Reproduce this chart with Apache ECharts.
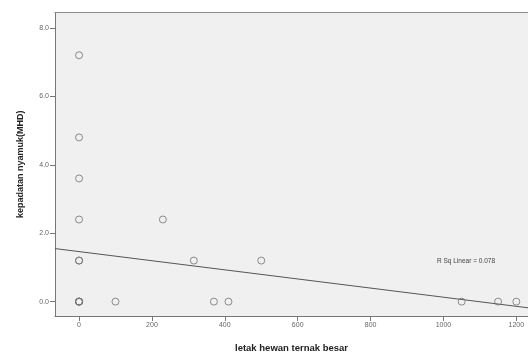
<!DOCTYPE html>
<html>
<head>
<meta charset="utf-8">
<script src="https://cdn.jsdelivr.net/npm/echarts@6/dist/echarts.min.js"></script>
<style>
  html, body { margin: 0; padding: 0; background: #fff; }
  #chart { width: 528px; height: 358px; }
</style>
</head>
<body>
<div id="chart"></div>
<script>
// letak hewan ternak besar (x) vs kepadatan nyamuk (y)
var xValues = [0, 0, 0, 0, 0, 0, 0, 0, 0, 0, 100, 230, 315, 370, 410, 500, 1050, 1150, 1200];
var yValues = [7.2, 4.8, 3.6, 2.4, 1.2, 1.2, 0, 0, 0, 0, 0, 2.4, 1.2, 0, 0, 1.2, 0, 0, 0];
// fit line end points
var fitX = [-66, 1232];
var fitY = [1.55, -0.18];
var xTicks = [0, 200, 400, 600, 800, 1000, 1200];
var yTicks = [0, 2, 4, 6, 8];

var points = xValues.map(function (x, i) { return [x, yValues[i]]; });
var fitLine = fitX.map(function (x, i) { return [x, fitY[i]]; });

var chart = echarts.init(document.getElementById('chart'));

var option = {
  animation: false,
  textStyle: { fontFamily: 'Liberation Sans, Arial, sans-serif' },
  grid: {
    left: 55, top: 12.5, right: 0, bottom: 42,
    show: true,
    backgroundColor: '#f0f0f0',
    borderWidth: 0
  },
  xAxis: [{
    type: 'value',
    min: -66,
    max: 1232,
    name: 'letak hewan ternak besar',
    nameLocation: 'middle',
    nameGap: 27,
    nameTextStyle: { color: '#222', fontSize: 9.5, fontWeight: 'bold' },
    axisLine: { show: true, onZero: false, lineStyle: { color: '#777' } },
    axisTick: { show: true, length: 5, customValues: xTicks, lineStyle: { color: '#777' } },
    axisLabel: {
      customValues: xTicks, color: '#666', fontSize: 7, margin: 6,
      formatter: function (v) { return String(v); }
    },
    splitLine: { show: false }
  }, {
    // top frame line only
    type: 'value',
    position: 'top',
    min: -66,
    max: 1232,
    axisLine: { show: true, onZero: false, lineStyle: { color: '#8a8a8a' } },
    axisTick: { show: false },
    axisLabel: { show: false },
    splitLine: { show: false }
  }],
  yAxis: {
    type: 'value',
    min: -0.42,
    max: 8.45,
    name: 'kepadatan nyamuk(MHD)',
    nameLocation: 'middle',
    nameGap: 30,
    nameTextStyle: { color: '#222', fontSize: 9, fontWeight: 'bold' },
    axisLine: { show: true, onZero: false, lineStyle: { color: '#777' } },
    axisTick: { show: true, length: 5, customValues: yTicks, lineStyle: { color: '#777' } },
    axisLabel: {
      customValues: yTicks, color: '#666', fontSize: 7, margin: 6,
      formatter: function (v) { return v.toFixed(1); }
    },
    splitLine: { show: false }
  },
  graphic: [{
    type: 'text',
    left: 437,
    top: 258,
    style: { text: 'R Sq Linear = 0.078', fill: '#444', fontSize: 6.5, fontFamily: 'Liberation Sans, Arial, sans-serif' }
  }],
  series: [
    {
      type: 'line',
      data: fitLine,
      symbol: 'none',
      lineStyle: { color: '#555', width: 1 },
      z: 2
    },
    {
      type: 'scatter',
      data: points,
      symbol: 'circle',
      symbolSize: 7,
      itemStyle: { color: 'rgba(0,0,0,0)', borderColor: '#707070', borderWidth: 1 },
      z: 3
    }
  ]
};

chart.setOption(option);
</script>
</body>
</html>
